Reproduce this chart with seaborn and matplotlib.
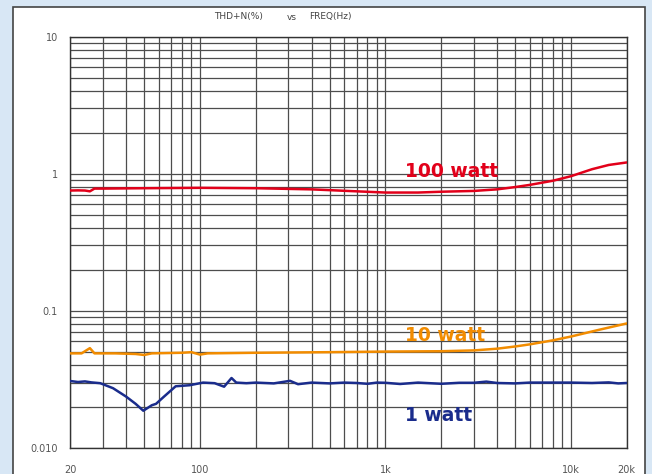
import numpy as np
import pandas as pd
import matplotlib
matplotlib.use("Agg")
import matplotlib.pyplot as plt
from matplotlib.patches import Rectangle
from matplotlib.ticker import FixedLocator, LogLocator, NullFormatter
import seaborn as sns

# ---------------- data ----------------
freq_100w = [20, 22, 24, 25.5, 27, 30, 50, 100, 200, 400, 700, 1000, 1500,
             2000, 3000, 4000, 5000, 6000, 8000, 10000, 13000, 16000, 20000]
thd_100w = [0.755, 0.757, 0.755, 0.745, 0.78, 0.78, 0.785, 0.79, 0.785, 0.77,
            0.745, 0.73, 0.73, 0.74, 0.75, 0.77, 0.80, 0.83, 0.89, 0.96,
            1.08, 1.16, 1.21]

freq_10w = [20, 23, 25.5, 27, 35, 45, 50, 55, 80, 90, 100, 110, 200, 500,
            1000, 2000, 3000, 4000, 5000, 6000, 8000, 10000, 14000, 20000]
thd_10w = [0.049, 0.049, 0.0535, 0.049, 0.049, 0.0485, 0.0477, 0.049, 0.0495,
           0.050, 0.048, 0.049, 0.0495, 0.050, 0.0505, 0.0508, 0.0515, 0.053,
           0.055, 0.057, 0.061, 0.065, 0.0725, 0.081]

freq_1w = [20, 22, 24, 26, 29, 34, 40, 45, 49.5, 55, 58, 64, 74, 88, 104, 120,
           135, 148, 157, 178, 200, 250, 306, 338, 400, 500, 600, 700, 800,
           900, 1000, 1200, 1500, 2000, 2500, 3000, 3500, 4000, 5000, 6000,
           8000, 10000, 13000, 16000, 18000, 20000]
thd_1w = [0.0308, 0.0303, 0.0306, 0.0301, 0.0297, 0.0273, 0.0237, 0.021,
          0.0187, 0.0205, 0.021, 0.0237, 0.0282, 0.0287, 0.0300, 0.0297,
          0.0280, 0.0324, 0.0300, 0.0297, 0.0300, 0.0296, 0.0309, 0.0292,
          0.0300, 0.0296, 0.0300, 0.0298, 0.0294, 0.0300, 0.0299, 0.0293,
          0.0300, 0.0294, 0.0299, 0.0299, 0.0305, 0.0298, 0.0296, 0.0300,
          0.0300, 0.0300, 0.0298, 0.0301, 0.0296, 0.0298]

series_names = ["100 watt", "10 watt", "1 watt"]
series_colors = ["#e2001a", "#f28c00", "#1a2c8c"]
label_pos_freq = [1280, 1280, 1280]
label_pos_thd = [1.04, 0.0666, 0.0173]

x_tick_values = [20, 100, 1000, 10000, 20000]
x_tick_labels = ["20", "100", "1k", "10k", "20k"]
y_tick_values = [0.01, 0.1, 1, 10]
y_tick_labels = ["0.010", "0.1", "1", "10"]

# ---------------- build table ----------------
df = pd.concat([
    pd.DataFrame({"freq": freq_100w, "thd": thd_100w, "series": "100 watt"}),
    pd.DataFrame({"freq": freq_10w, "thd": thd_10w, "series": "10 watt"}),
    pd.DataFrame({"freq": freq_1w, "thd": thd_1w, "series": "1 watt"}),
], ignore_index=True)

sns.set_style("white")
plt.rcParams["font.family"] = ["DejaVu Sans"]

W, H = 652, 474
fig = plt.figure(figsize=(W / 100, H / 100), dpi=100, facecolor="#d8e7f5")

# white panel with border (drawn behind the axes)
panel = Rectangle((13 / W, -0.02), (645 - 13) / W, 1 - 7.3 / H + 0.02,
                  transform=fig.transFigure, facecolor="white",
                  edgecolor="#444444", lw=1.2, zorder=-10)
fig.patches.append(panel)

left, right, top, bottom = 70.3, 626.7, 36.7, 448.0
ax = fig.add_axes([left / W, 1 - bottom / H, (right - left) / W, (bottom - top) / H])
ax.set_zorder(1)
ax.set_facecolor("white")

sns.lineplot(data=df, x="freq", y="thd", hue="series",
             hue_order=series_names, palette=series_colors,
             estimator=None, legend=False, lw=1.8, ax=ax, zorder=3)

ax.set_xscale("log")
ax.set_yscale("log")
ax.set_xlim(20, 20000)
ax.set_ylim(0.01, 10)

ax.xaxis.set_major_locator(FixedLocator(x_tick_values))
ax.set_xticklabels(x_tick_labels)
ax.xaxis.set_minor_locator(LogLocator(base=10, subs=range(2, 10), numticks=20))
ax.xaxis.set_minor_formatter(NullFormatter())
ax.yaxis.set_major_locator(FixedLocator(y_tick_values))
ax.set_yticklabels(y_tick_labels)
ax.yaxis.set_minor_locator(LogLocator(base=10, subs=range(2, 10), numticks=20))
ax.yaxis.set_minor_formatter(NullFormatter())

ax.grid(which="both", color="#4d4d4d", lw=0.9)
ax.set_axisbelow(True)
ax.tick_params(which="both", length=0)
ax.tick_params(axis="x", labelsize=7, labelcolor="#555555", pad=12)
ax.tick_params(axis="y", labelsize=7, labelcolor="#555555", pad=9)
for s in ax.spines.values():
    s.set_color("#333333")
    s.set_linewidth(1.0)
ax.set_xlabel("")
ax.set_ylabel("")

for name, col, fx, fy in zip(series_names, series_colors, label_pos_freq, label_pos_thd):
    ax.text(fx, fy, name, color=col, fontsize=13.5, fontweight="bold",
            ha="left", va="center", zorder=4)

# title pieces
fig.text(239 / W, 1 - 17 / H, "THD+N(%)", fontsize=6.5, color="#444444", ha="center", va="center")
fig.text(292 / W, 1 - 17 / H, "vs", fontsize=6.5, color="#444444", ha="center", va="center")
fig.text(330.5 / W, 1 - 17 / H, "FREQ(Hz)", fontsize=6.5, color="#444444", ha="center", va="center")

fig.savefig("out.png", dpi=100, facecolor=fig.get_facecolor())
